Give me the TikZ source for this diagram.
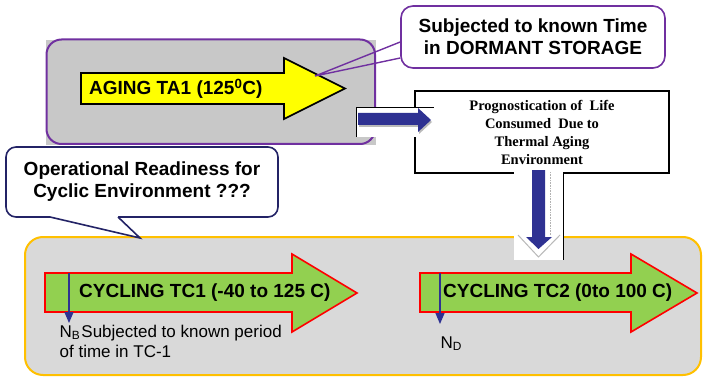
\documentclass[tikz,border=0pt]{standalone}
\usepackage{fontspec}
\setmainfont{Liberation Sans}
\newfontfamily\tnr{Liberation Serif}
\usetikzlibrary{arrows.meta}
\definecolor{purp}{HTML}{7030A0}
\definecolor{navy}{HTML}{2E3192}
\definecolor{cnavy}{HTML}{232366}
\definecolor{gtop}{HTML}{C8C8C8}
\definecolor{gbot}{HTML}{D9D9D9}
\definecolor{orng}{HTML}{FFC000}
\definecolor{grn}{HTML}{92D050}
\definecolor{ylw}{HTML}{FFFF00}
\begin{document}
\begin{tikzpicture}[x=1pt,y=-1pt,
  bigtxt/.style={font=\fontsize{19}{22}\selectfont\bfseries, inner sep=0pt},
  smalltxt/.style={font=\fontsize{17}{20}\selectfont, inner sep=0pt},
  bigarrow/.style={line width=1.6pt, line join=miter},
  callout/.style={line width=1.6pt, fill=white, align=center},
  thinarrow/.style={navy, line width=1.3pt, -{Triangle[width=9pt,length=11pt]}},
  bluearrow/.style={fill=navy, draw=none}
]
\useasboundingbox (0,0) rectangle (704,377);

% ---------- top grey box ----------
\fill[gtop] (46,40) rectangle (376,145);
\draw[purp, line width=2pt, rounded corners=15pt] (46.5,39.5) rectangle (375,144);

% yellow arrow
\draw[bigarrow, fill=ylw] (81,73) -- (284,73) -- (284,58) -- (345,88.5) -- (284,119) -- (284,104) -- (81,104) -- cycle;
\node[bigtxt, anchor=west] (aging) at (89,88.5) {AGING TA1 (125\textsuperscript{0}C)};

% ---------- callout: dormant storage ----------
\node[callout, draw=purp, rounded corners=12pt, minimum width=264pt, minimum height=62pt, bigtxt] (sub) at (533,37) {Subjected to known Time\\in DORMANT STORAGE};
\coordinate (tip1) at (315,76);
\draw[purp, line width=1.4pt] ([yshift=-5pt]sub.west) -- (tip1) -- ([yshift=-21pt]sub.west);

% ---------- bottom grey box ----------
\draw[orng, fill=gbot, line width=2pt, rounded corners=18pt] (25,237) rectangle (701,375);

% ---------- prognostication box ----------
\node[draw=black, line width=2pt, minimum width=254pt, minimum height=82pt, inner sep=0pt] (prog) at (542,132) {};
\node[anchor=north, inner sep=0pt, align=center, font=\tnr\bfseries\fontsize{14.5}{18}\selectfont] (progtxt) at (542,100.5)
  {Prognostication of\ \ Life\\Consumed\ \ Due to\\Thermal Aging\\Environment};

% right blue arrow (picture with white ground)
\fill[white] (356,107) rectangle (433,137);
\draw[black, line width=0.8pt] (356,137) -- (356,107) -- (434,107);
\fill[gray!55] (359,115) -- (419,115) -- (419,110) -- (432,122) -- (419,134) -- (419,127) -- (359,127) -- cycle;
\fill[navy] (358,113) -- (418,113) -- (418,108) -- (431,120) -- (418,132) -- (418,125) -- (358,125) -- cycle;

% down blue arrow (picture with white ground)
\fill[white] (514,170) rectangle (563,260);
\draw[black, line width=0.8pt] (563,173) -- (563,260);
\draw[gray!60, line width=0.6pt, densely dotted] (550,172) -- (550,236);
\draw[gray!55, line width=1pt] (518,235) -- (538.5,257) -- (560,235);
\fill[navy] (532,170) -- (545,170) -- (545,237) -- (552,237) -- (538.5,249) -- (526,237) -- (532,237) -- cycle;

% ---------- callout: operational readiness ----------
\node[callout, draw=cnavy, rounded corners=10pt, minimum width=272pt, minimum height=70pt, bigtxt] (ops) at (142,182) {Operational Readiness for\\Cyclic Environment ???};
\coordinate (tip2) at (140,238);
\coordinate (lega) at (50,217);
\coordinate (legb) at (118,217);
\fill[white] (50,215.4) -- (lega) -- (tip2) -- (legb) -- (118,215.4) -- cycle;
\draw[cnavy, line width=1.6pt, line join=miter] (lega) -- (tip2) -- (legb);

% ---------- green arrows ----------
\draw[bigarrow, red, fill=grn] (45,273) -- (292,273) -- (292,254) -- (357,293) -- (292,332) -- (292,312) -- (45,312) -- cycle;
\node[bigtxt, anchor=west] (tc1) at (79,293) {CYCLING TC1 (-40 to 125 C)};
\draw[bigarrow, red, fill=grn] (420,273) -- (631,273) -- (631,254) -- (697,293) -- (631,332) -- (631,312) -- (420,312) -- cycle;
\node[bigtxt, anchor=west] (tc2) at (443,293) {CYCLING TC2 (0to 100 C)};

% thin arrows and labels
\coordinate (nbtop) at (69,273);
\coordinate (nbbot) at (69,323);
\draw[thinarrow] (nbtop) -- (nbbot);
\node[smalltxt, anchor=base west] (nb1) at (59.5,337) {N\textsubscript{B}\kern1pt Subjected to known period};
\node[smalltxt, anchor=base west] (nb2) at (59.5,357) {of time in TC-1};

\coordinate (ndtop) at (440,273);
\coordinate (ndbot) at (440,324);
\draw[thinarrow] (ndtop) -- (ndbot);
\node[smalltxt, anchor=base west] (nd) at (440.5,348) {N\textsubscript{D}};
\end{tikzpicture}
\end{document}
